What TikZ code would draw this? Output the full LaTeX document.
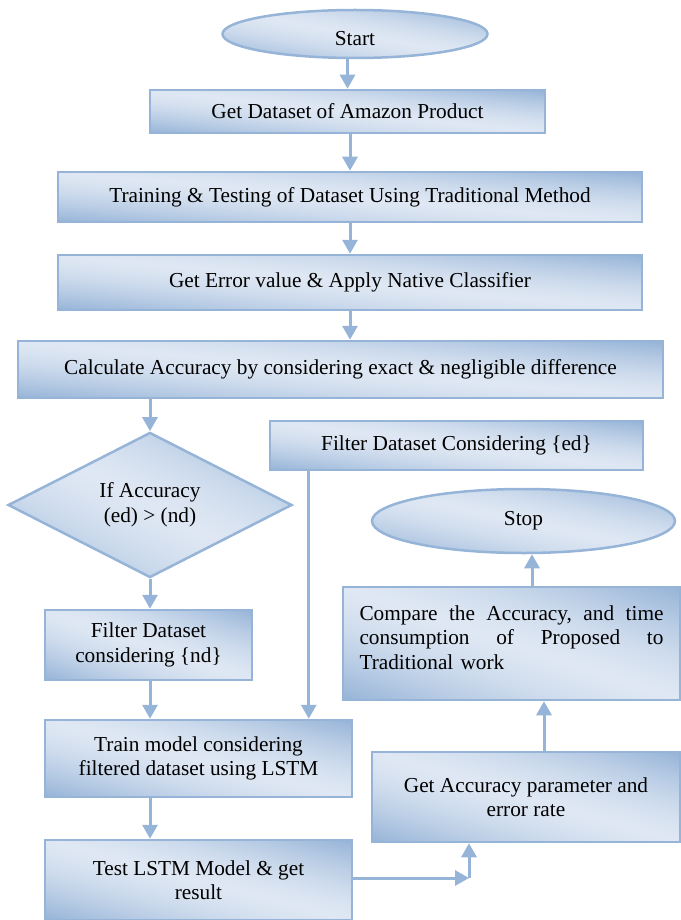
\documentclass[tikz,border=0pt]{standalone}
\usepackage{fontspec}
\setmainfont{Liberation Serif}
\usetikzlibrary{shapes.geometric,arrows.meta}
\definecolor{bline}{RGB}{150,180,216}
\pgfdeclarefunctionalshading{boxshade}{\pgfpointorigin}{\pgfpoint{100bp}{100bp}}{}{%
  add 100 sub abs 50 div dup sqrt mul
  dup dup -0.287 mul 0.871 add 3 1 roll -0.204 mul 0.906 add exch -0.110 mul 0.953 add
}
\tikzset{
  base/.style 2 args={draw=bline, line width=2.5pt, shading=boxshade,
    minimum width=#1pt, minimum height=#2pt,
    align=center, font=\fontsize{21.3}{24.5}\selectfont, text=black},
  box/.style 2 args={base={#1}{#2}, rectangle, inner sep=2pt},
  term/.style 2 args={base={#1}{#2}, ellipse, inner sep=0pt},
  decide/.style 2 args={base={#1}{#2}, diamond, inner sep=0pt},
  arr/.style={draw=bline, line width=3pt, -{Triangle[width=15pt,length=14pt]}}
}
\newcommand{\jline}[1]{\makebox[304pt][l]{#1}}
\begin{document}
\begin{tikzpicture}[x=1pt,y=-1pt]
\useasboundingbox (0,0) rectangle (680,920);
\node[term={265}{48}] (start) at (355,34) {\rule{0pt}{23pt}Start};
\node[box={395}{43}] (b1) at (347.5,111.5) {Get Dataset of Amazon Product};
\node[box={584}{50}] (b2) at (350,197) {Training \& Testing of Dataset Using Traditional Method};
\node[box={584}{55}] (b3) at (350,282.5) {Get Error value \& Apply Native Classifier};
\node[box={645}{57}] (b4) at (340.5,369.5) {Calculate Accuracy by considering exact \& negligible difference};
\node[decide={284}{130}] (dia) at (150,505) {If Accuracy\\(ed) > (nd)};
\node[box={373}{49}] (fed) at (456.5,445.5) {Filter Dataset Considering \{ed\}};
\node[term={303}{64}] (stop) at (523.5,521) {Stop};
\node[box={337}{113}, text width=304pt, align=left] (cmp) at (511.5,643.5)
  {\jline{Compare\hfill the\hfill Accuracy,\hfill and\hfill time}\\\jline{consumption\hfill of\hfill Proposed\hfill to}\\Traditional work\par\vspace{12pt}};
\node[box={207}{70}] (fnd) at (148.5,645) {Filter Dataset\\considering \{nd\}};
\node[box={307}{77}] (train) at (198.5,758.5) {Train model considering\\filtered dataset using LSTM};
\node[box={308}{90}] (gacc) at (526,797) {Get Accuracy parameter and\\error rate};
\node[box={307}{80}] (test) at (198.5,880) {Test LSTM Model \& get\\result};
\coordinate (fedout) at ([xshift=40pt]fed.south west);
\coordinate (joint) at (469,878);
\coordinate (ga) at ([xshift=18pt]gacc.north);
\coordinate (cs) at ([xshift=20.5pt]cmp.north);
\draw[arr] (start.south -| b1.north) -- (b1.north);
\draw[arr] (b1.south -| b2.north) -- (b2.north);
\draw[arr] (b2.south) -- (b3.north);
\draw[arr] (b3.south) -- (b3.south |- b4.north);
\draw[arr] (b4.south -| dia.north) -- (dia.north);
\draw[arr] (dia.south) -- (dia.south |- fnd.north);
\draw[arr] (fnd.south -| dia.south) -- (train.north -| dia.south);
\draw[arr] (fedout) -- (fedout |- train.north);
\draw[arr] (train.south -| dia.south) -- (test.north -| dia.south);
\draw[arr] (test.east |- joint) -- (joint);
\draw[arr] (joint) -- (joint |- gacc.south);
\draw[arr] (ga) -- (ga |- cmp.south);
\draw[arr] (cs) -- (cs |- stop.south);
\end{tikzpicture}
\end{document}
